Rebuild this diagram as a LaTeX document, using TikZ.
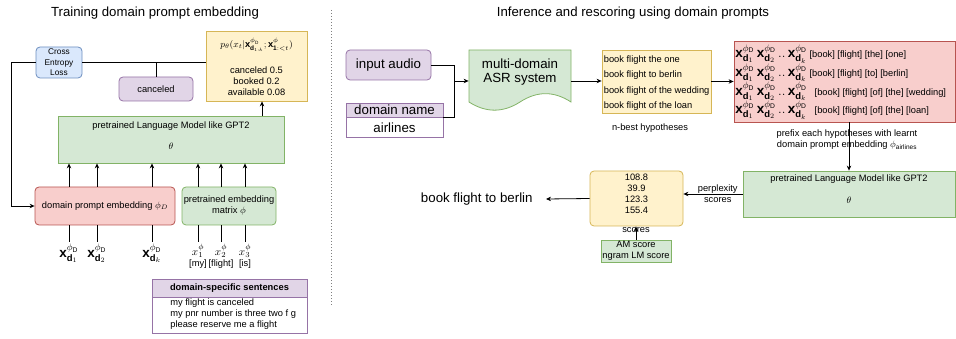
\RequirePackage{fix-cm}
\documentclass[tikz,border=0pt]{standalone}
\usepackage{fontspec}
\setmainfont{Liberation Sans}
\usetikzlibrary{arrows.meta}
\definecolor{gfill}{HTML}{D5E8D4}
\definecolor{gdraw}{HTML}{82B366}
\definecolor{rfill}{HTML}{F8CECC}
\definecolor{rdraw}{HTML}{B85450}
\definecolor{yfill}{HTML}{FFF2CC}
\definecolor{ydraw}{HTML}{D6B656}
\definecolor{pfill}{HTML}{E1D5E7}
\definecolor{pdraw}{HTML}{9673A6}
\definecolor{bfill}{HTML}{DAE8FC}
\definecolor{bdraw}{HTML}{6C8EBF}
\newcommand\ftsmall{\fontsize{9.3pt}{11pt}\selectfont}
\newcommand\ftbig{\fontsize{13.3pt}{14pt}\selectfont}
\newcommand\fttitle{\fontsize{13.2pt}{15pt}\selectfont}
\newcommand\ftmath{\fontsize{13.5pt}{16pt}\selectfont}
\newcommand\xdp[1]{\mathbf{x}^{\phi_{\mathrm{D}}}_{\mathbf{d}_{#1}}}
\newcommand\xrow{{\ftmath$\xdp{1}\,\xdp{2}\,..\,\xdp{k}$}}
\begin{document}
\begin{tikzpicture}[x=1pt,y=-1pt,align=center,font=\ftsmall,line width=0.8pt,
  gbox/.style={draw=gdraw,fill=gfill,inner sep=0pt},
  rbox/.style={draw=rdraw,fill=rfill,inner sep=0pt},
  ybox/.style={draw=ydraw,fill=yfill,inner sep=0pt},
  pbox/.style={draw=pdraw,fill=pfill,inner sep=0pt},
  bbox/.style={draw=bdraw,fill=bfill,inner sep=0pt},
  rnd/.style={rounded corners=4pt},
  arr/.style={-{Stealth[length=5pt,width=4.5pt]}}]
\useasboundingbox (0,0) rectangle (956,339);
\node[font=\fttitle] (t1) at (155,13) {Training domain prompt embedding};
\node[bbox,rnd,minimum width=46pt,minimum height=31pt,font=\fontsize{8.3pt}{10.5pt}\selectfont] (v1) at (59,62.5) {Cross\\Entropy\\Loss};
\node[pbox,rnd,minimum width=74pt,minimum height=24pt] (v2) at (156,89) {canceled};
\node[ybox,minimum width=101pt,minimum height=70pt] (v3) at (256.5,66) {};
\node (v3a) at (256.5,45) {$p_\theta(x_t|\xdp{1:k};\mathbf{x}^{\phi}_{\mathbf{1}:<t})$};
\node[inner sep=0pt] (v3b) at (256.5,81) {canceled 0.5\\booked 0.2\\available 0.08};
\node[gbox,minimum width=226pt,minimum height=47pt] (v4) at (171,139.5) {};
\node (v4a) at (171,126) {pretrained Language Model like GPT2};
\node (v4b) at (171,146) {$\theta$};
\node[rbox,rnd,minimum width=140pt,minimum height=38pt] (v5) at (105,206) {domain prompt embedding $\phi_D$};
\node[gbox,rnd,minimum width=94pt,minimum height=38pt] (v6) at (229,206) {pretrained embedding\\matrix $\phi$};
\node[anchor=north,font=\ftmath,inner sep=2pt] (v7) at (69,242) {$\xdp{1}$};
\node[anchor=north,font=\ftmath,inner sep=2pt] (v8) at (97,242) {$\xdp{2}$};
\node[anchor=north,font=\ftmath,inner sep=2pt] (v9) at (152,242) {$\xdp{k}$};
\node[anchor=north,inner sep=2pt] (v10) at (198,242) {{\fontsize{11pt}{12pt}\selectfont$x^{\phi}_{1}$}\\{[my]}};
\node[anchor=north,inner sep=2pt] (v11) at (221,242) {{\fontsize{11pt}{12pt}\selectfont$x^{\phi}_{2}$}\\{[flight]}};
\node[anchor=north,inner sep=2pt] (v12) at (245,242) {{\fontsize{11pt}{12pt}\selectfont$x^{\phi}_{3}$}\\{[is]}};
\node[pbox,minimum width=155pt,minimum height=18pt,font=\ftsmall\bfseries] (v13) at (229.5,288) {domain-specific sentences};
\node[draw=pdraw,fill=white,minimum width=155pt,minimum height=36pt,anchor=north] (v14) at (v13.south) {};
\node[anchor=west,align=left,inner sep=0pt] (v15) at (170,314) {my flight is canceled\\my pnr number is three two f g\\please reserve me a flight};
\draw[arr] (v1.west) -- ++(-24,0) |- (v5.west);
\draw (v1.east) -- (v1.east -| v3.west);
\draw (v2.north) -- (v2.north |- v1.east);
\draw[arr] ([xshift=91pt]v4.north) -- ([xshift=91pt]v4.north |- v3.south);
\draw (v7.north) -- (v7.north |- v5.south);
\draw (v8.north) -- (v8.north |- v5.south);
\draw (v9.north) -- (v9.north |- v5.south);
\draw (v10.north) -- (v10.north |- v6.south);
\draw (v11.north) -- (v11.north |- v6.south);
\draw (v12.north) -- (v12.north |- v6.south);
\draw[arr] (v7.north |- v5.north) -- (v7.north |- v4.south);
\draw[arr] (v8.north |- v5.north) -- (v8.north |- v4.south);
\draw[arr] (v9.north |- v5.north) -- (v9.north |- v4.south);
\draw[arr] (v10.north |- v6.north) -- (v10.north |- v4.south);
\draw[arr] (v11.north |- v6.north) -- (v11.north |- v4.south);
\draw[arr] (v12.north |- v6.north) -- (v12.north |- v4.south);
\draw[gray,dotted,line width=1pt] (331,10) -- (331,305);
\node[font=\fttitle] (t2) at (633,13) {Inference and rescoring using domain prompts};
\node[pbox,rnd,minimum width=85pt,minimum height=30pt,font=\ftbig] (w1) at (388.5,65) {input audio};
\node[pbox,minimum width=97pt,minimum height=14pt,font=\ftbig] (w2) at (394.5,110) {domain name};
\node[draw=pdraw,fill=white,minimum width=97pt,minimum height=20pt,font=\ftbig,anchor=north] (w3) at (w2.south) {airlines};
\coordinate (j1) at (454,81);
\node[minimum width=102pt,minimum height=62pt,inner sep=0pt] (w4) at (520,81) {};
\draw[gdraw,fill=gfill] (469,50) -- (571,50) -- (571,102) .. controls (554,90.9) and (537,90.9) .. (520,102) .. controls (503,112.9) and (486,112.9) .. (469,102) -- cycle;
\node[font=\ftbig] (w5) at (520,72.5) {multi-domain\\ASR system};
\draw (w1.east) -| (j1);
\draw (w2.south east) -| (j1);
\draw[arr] (j1) -- (w4.west);
\node[ybox,minimum width=109pt,minimum height=63pt] (w6) at (656.5,81.5) {};
\node[anchor=west,align=left,inner sep=0pt,font=\fontsize{9.3pt}{15.5pt}\selectfont] (w7) at (603.5,83.3) {book flight the one\\book flight to berlin\\book flight of the wedding\\book flight of the loan};
\node (w8) at (650,128) {n-best hypotheses};
\draw[arr] (w4.east) -- (w4.east -| w6.west);
\node[rbox,minimum width=221pt,minimum height=81pt] (w9) at (844.5,81.5) {};
\node[anchor=west,align=left,inner sep=0pt,font=\fontsize{9.3pt}{18.7pt}\selectfont] (w10) at (735,82) {\xrow\ [book] [flight] [the] [one]\\\xrow\ [book] [flight] [to] [berlin]\\\xrow\ \ \ [book] [flight] [of] [the] [wedding]\\\xrow\ \ \ [book] [flight] [of] [the] [loan]};
\draw[arr] (w6.east) -- (w6.east -| w9.west);
\node (w11) at (847,140) {prefix each hypotheses with learnt\\domain prompt embedding $\phi_{\mathrm{airlines}}$};
\node[gbox,minimum width=212pt,minimum height=46pt] (w12) at (849,194) {};
\node (w13) at (849,179) {pretrained Language Model like GPT2};
\node (w14) at (849,200) {$\theta$};
\draw[arr] (w9.south -| w12.north) -- (w12.north);
\node[ybox,rnd,minimum width=93pt,minimum height=55pt] (w15) at (636.5,198.5) {};
\node (w16) at (636.5,193.5) {108.8\\39.9\\123.3\\155.4};
\draw[arr] (w12.west) -- (w12.west -| w15.east) node[pos=0.42] {perplexity\\scores};
\node[anchor=east,inner xsep=13pt,font=\ftbig] (w17) at (546,199) {book flight to berlin};
\draw[arr] (w15.west) -- (w17.east);
\node[gbox,minimum width=70pt,minimum height=22pt] (w18) at (636,251) {AM score\\ngram LM score};
\draw[arr] (w18.north) -- (w18.north |- w15.south) node[pos=0.7] {scores};
\end{tikzpicture}
\end{document}
